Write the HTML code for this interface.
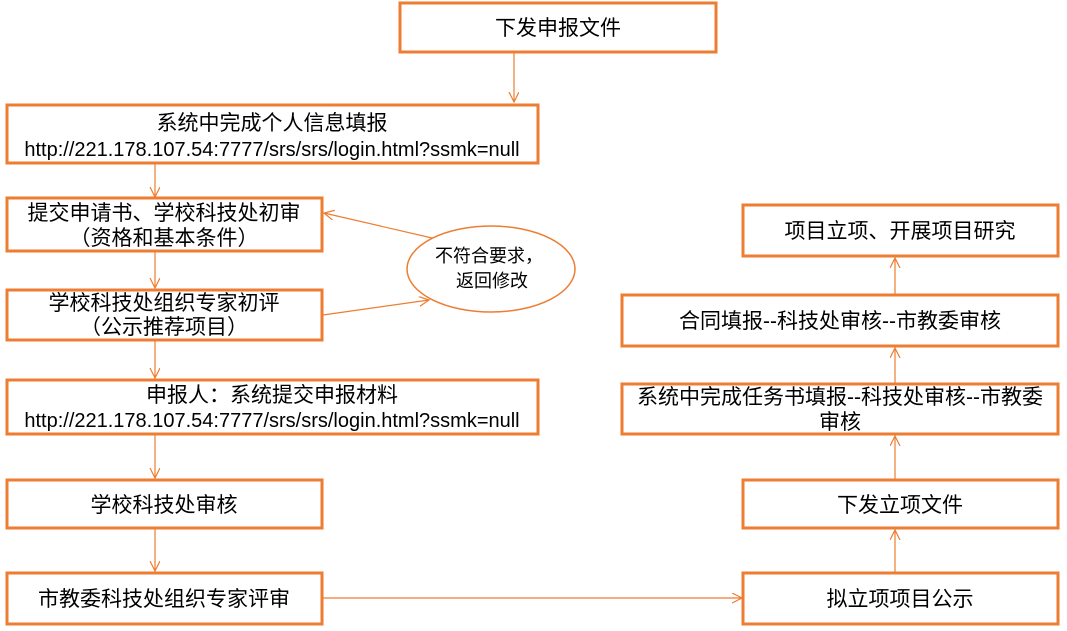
<!DOCTYPE html>
<html><head><meta charset="utf-8"><style>
body{margin:0;background:#fff;width:1067px;height:631px;overflow:hidden}
svg{display:block}
text{font-family:"Liberation Sans","Noto Sans CJK SC",sans-serif;font-size:21px;fill:#000;text-anchor:middle}
.u{font-size:20px}
.b{fill:#fff;stroke:#ED7D31;stroke-width:3}
.l{stroke:#ED7D31;stroke-width:1.2;fill:none}
</style></head><body>
<svg width="1067" height="631" viewBox="0 0 1067 631">
<defs><marker id="a" markerWidth="12" markerHeight="12" refX="10" refY="5" orient="auto" markerUnits="userSpaceOnUse"><path d="M0,0 L10,5 L0,10" fill="none" stroke="#ED7D31" stroke-width="1.2"/></marker></defs>
<rect class="b" x="400" y="3" width="316" height="49"/>
<text x="558" y="35">下发申报文件</text>
<rect class="b" x="7" y="105" width="531" height="58"/>
<text x="272" y="130">系统中完成个人信息填报</text>
<text class="u" x="272" y="156">http://221.178.107.54:7777/srs/srs/login.html?ssmk=null</text>
<rect class="b" x="7" y="198" width="315" height="53"/>
<text x="164" y="220">提交申请书、学校科技处初审</text>
<text x="164" y="245">（资格和基本条件）</text>
<rect class="b" x="7" y="290" width="315" height="50"/>
<text x="164" y="310">学校科技处组织专家初评</text>
<text x="164" y="334">（公示推荐项目）</text>
<rect class="b" x="7" y="380" width="531" height="54"/>
<text x="272" y="402">申报人：系统提交申报材料</text>
<text class="u" x="272" y="427">http://221.178.107.54:7777/srs/srs/login.html?ssmk=null</text>
<rect class="b" x="7" y="480" width="315" height="48"/>
<text x="164" y="512">学校科技处审核</text>
<rect class="b" x="7" y="573" width="315" height="51"/>
<text x="164" y="606">市教委科技处组织专家评审</text>
<rect class="b" x="743" y="573" width="315" height="51"/>
<text x="900" y="606">拟立项项目公示</text>
<rect class="b" x="743" y="480" width="315" height="48"/>
<text x="900" y="512">下发立项文件</text>
<rect class="b" x="622" y="384" width="436" height="50"/>
<text x="840" y="404">系统中完成任务书填报--科技处审核--市教委</text>
<text x="840" y="429">审核</text>
<rect class="b" x="622" y="295" width="436" height="51"/>
<text x="840" y="328">合同填报--科技处审核--市教委审核</text>
<rect class="b" x="743" y="205" width="315" height="51"/>
<text x="900" y="238">项目立项、开展项目研究</text>
<ellipse cx="491" cy="269" rx="84" ry="43" fill="#fff" stroke="#ED7D31" stroke-width="1.5"/>
<text x="489" y="262" style="font-size:18px">不符合要求，</text>
<text x="492" y="287" style="font-size:18px">返回修改</text>
<g class="l">
<line x1="514" y1="53" x2="514" y2="102" marker-end="url(#a)"/>
<line x1="155" y1="164" x2="155" y2="197" marker-end="url(#a)"/>
<line x1="155" y1="252" x2="155" y2="288" marker-end="url(#a)"/>
<line x1="155" y1="341" x2="155" y2="378" marker-end="url(#a)"/>
<line x1="155" y1="435" x2="155" y2="478" marker-end="url(#a)"/>
<line x1="155" y1="529" x2="155" y2="571" marker-end="url(#a)"/>
<line x1="323" y1="598" x2="742" y2="598" marker-end="url(#a)"/>
<line x1="895" y1="572" x2="895" y2="530" marker-end="url(#a)"/>
<line x1="895" y1="479" x2="895" y2="436" marker-end="url(#a)"/>
<line x1="895" y1="383" x2="895" y2="348" marker-end="url(#a)"/>
<line x1="895" y1="294" x2="895" y2="258" marker-end="url(#a)"/>
<line x1="432" y1="238" x2="324" y2="213" marker-end="url(#a)"/>
<line x1="323" y1="315" x2="429" y2="300" marker-end="url(#a)"/>
</g>
</svg>
</body></html>
